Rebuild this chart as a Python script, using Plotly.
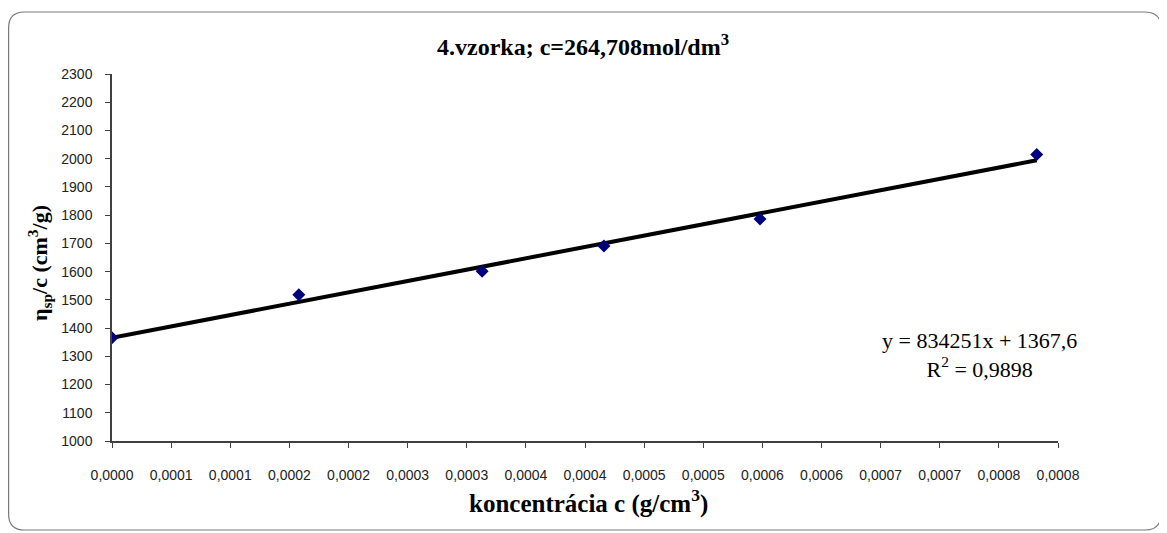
import numpy as np
import plotly.graph_objects as go

# ---- data ----
conc = [0.0, 0.000158, 0.000313, 0.000416, 0.000548, 0.000782]
eta_sp_c = [1366, 1518, 1601, 1691, 1786, 2015]

x_tick_vals = [i * 0.00005 for i in range(17)]
x_tick_text = ["0,0000", "0,0001", "0,0001", "0,0002", "0,0002", "0,0003", "0,0003",
               "0,0004", "0,0004", "0,0005", "0,0005", "0,0006", "0,0006", "0,0007",
               "0,0007", "0,0008", "0,0008"]

title_text = "<b>4.vzorka; c=264,708mol/dm<sup>3</sup></b>"
x_title = "<b>koncentrácia c (g/cm<sup>3</sup>)</b>"
y_title = "<b>η<sub>sp</sub>/c (cm<sup>3</sup>/g)</b>"
eq_text = "y = 834251x + 1367,6<br>R<sup>2</sup> = 0,9898"

# ---- trend line (least squares) ----
k, q = np.polyfit(conc, eta_sp_c, 1)
line_x = [min(conc), max(conc)]
line_y = [k * v + q for v in line_x]

# page body has an 8px margin, so the figure is offset by 8px
OFF = 8
W, H = 1167 - OFF, 533 - OFF
L, T = 112 - OFF, 74 - OFF
R = W - (1058 - OFF)
B = H - (441 - OFF)
SERIF = "Times New Roman, Liberation Serif, DejaVu Serif, serif"
SANS = "Arial, Liberation Sans, sans-serif"

pw, ph = W - L - R, H - T - B
def px(x):  # screen x -> paper
    return (x - OFF - L) / pw
def py(y):  # screen y -> paper
    return (H - B - (y - OFF)) / ph

fig = go.Figure()
fig.add_trace(go.Scatter(x=line_x, y=line_y, mode="lines",
                         line=dict(color="black", width=4), hoverinfo="skip",
                         showlegend=False))
fig.add_trace(go.Scatter(x=conc, y=eta_sp_c, mode="markers",
                         marker=dict(symbol="diamond", size=10, color="#00007f"),
                         showlegend=False))

# outer rounded frame
x0, x1, y0, y1, r = 8.6, 1161, 12, 530, 16
path = (f"M {px(x0+r)},{py(y0)} L {px(x1-r)},{py(y0)} "
        f"Q {px(x1)},{py(y0)} {px(x1)},{py(y0+r)} "
        f"L {px(x1)},{py(y1-r)} Q {px(x1)},{py(y1)} {px(x1-r)},{py(y1)} "
        f"L {px(x0+r)},{py(y1)} Q {px(x0)},{py(y1)} {px(x0)},{py(y1-r)} "
        f"L {px(x0)},{py(y0+r)} Q {px(x0)},{py(y0)} {px(x0+r)},{py(y0)} Z")
fig.add_shape(type="path", path=path, xref="paper", yref="paper",
              line=dict(color="#7a7a7a", width=1.2), layer="below")

def note(text, x, y, size, angle=0):
    fig.add_annotation(text=text, xref="paper", yref="paper", x=px(x), y=py(y),
                       xanchor="center", yanchor="middle", showarrow=False,
                       align="center", textangle=angle,
                       font=dict(family=SERIF, size=size, color="black"))

note(title_text, 583, 45, 24)
note(x_title, 588, 501, 25)
note(y_title, 40, 263, 22, angle=-90)
note(eq_text, 979, 355, 22)

axis_common = dict(showgrid=False, zeroline=False, showline=True, linecolor="#404040",
                   linewidth=1.5, ticks="outside", ticklen=5, tickcolor="#404040",
                   automargin=False,
                   tickfont=dict(family=SANS, size=14, color="#222222"))

fig.update_layout(
    width=W, height=H,
    margin=dict(l=L, r=R, t=T, b=B, autoexpand=False),
    paper_bgcolor="white", plot_bgcolor="white",
    xaxis=dict(range=[0, 0.0008], tickvals=x_tick_vals, ticktext=x_tick_text,
               ticklabelstandoff=15, **axis_common),
    yaxis=dict(range=[1000, 2300], dtick=100, tick0=1000,
               ticklabelstandoff=10, **axis_common),
)

fig.write_html("out.html")
